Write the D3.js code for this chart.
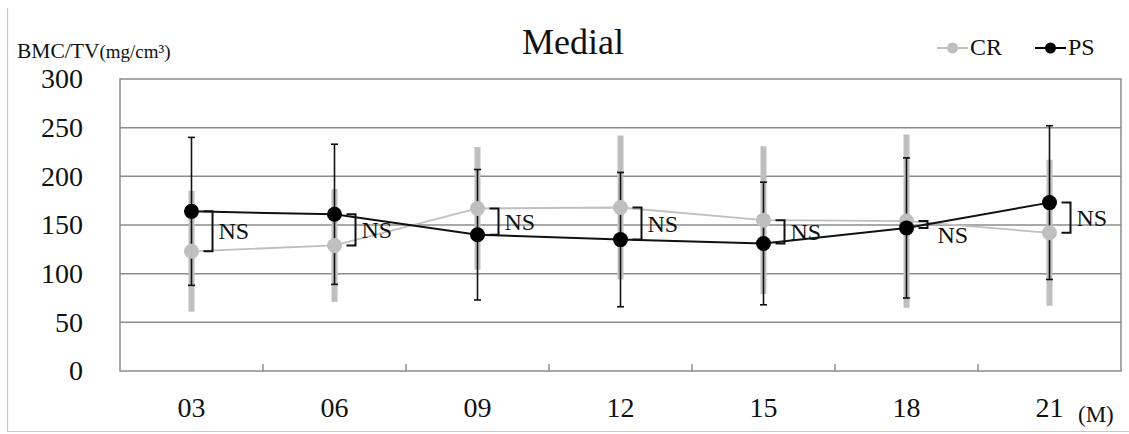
<!DOCTYPE html>
<html>
<head>
<meta charset="utf-8">
<script src="https://cdn.jsdelivr.net/npm/d3@7/dist/d3.min.js"></script>
<style>
  body { margin: 0; background: #fff; }
  svg { display: block; font-family: "Liberation Serif", "Times New Roman", Times, serif; }
</style>
</head>
<body>
<svg width="1129" height="434"></svg>
<script>
const months = ["03", "06", "09", "12", "15", "18", "21"];
const crMean = [123, 129, 167, 168, 155, 154, 142];
const crSD = [62, 58, 63, 74, 76, 89, 75];
const psMean = [164, 161, 140, 135, 131, 147, 173];
const psSD = [76, 72, 67, 69, 63, 72, 79];
const yTicks = [0, 50, 100, 150, 200, 250, 300];
const seriesNames = ["CR", "PS"];

const GREY = "#bfbfbf";
const FONT = "Liberation Serif, Times New Roman, serif";
const svg = d3.select("svg");

const margin = {top: 79, right: 8, bottom: 63, left: 120},
  width = 1129 - margin.left - margin.right,
  height = 434 - margin.top - margin.bottom;

const x = d3.scaleBand().domain(months).range([margin.left, margin.left + width]);
const y = d3.scaleLinear().domain([0, 300]).range([margin.top + height, margin.top]);
const cx = d => x(d) + x.bandwidth() / 2;

const data = months.map((m, i) => ({m, cr: crMean[i], crSD: crSD[i], ps: psMean[i], psSD: psSD[i]}));

// outer frame (left and bottom edges visible)
svg.append("path")
  .attr("d", "M7.5,8 V431.5 H1129")
  .attr("fill", "none").attr("stroke", "#c8c8c8").attr("stroke-width", 1.2);

// gridlines
svg.append("g")
  .selectAll("line")
  .data(yTicks.filter(t => t > 0 && t < 300))
  .join("line")
    .attr("x1", margin.left).attr("x2", margin.left + width)
    .attr("y1", d => y(d)).attr("y2", d => y(d))
    .attr("stroke", "#8c8c8c").attr("stroke-width", 1.5);

// plot border
svg.append("rect")
  .attr("x", margin.left).attr("y", margin.top)
  .attr("width", width).attr("height", height)
  .attr("fill", "none").attr("stroke", "#8c8c8c").attr("stroke-width", 1.5);

// y axis labels
const yAxis = svg.append("g")
  .attr("transform", "translate(" + margin.left + ",0)")
  .call(d3.axisLeft(y).tickValues(yTicks).tickSize(0).tickPadding(37))
  .attr("font-family", FONT);
yAxis.select(".domain").remove();
yAxis.selectAll("text")
  .attr("font-size", 28).attr("fill", "#111");

// x axis
const xAxis = svg.append("g")
  .attr("transform", "translate(0," + (margin.top + height) + ")")
  .call(d3.axisBottom(x).tickSize(0).tickPadding(26))
  .attr("font-family", FONT);
xAxis.select(".domain").remove();
xAxis.selectAll("text")
  .attr("font-size", 28).attr("fill", "#111");

// small inward ticks between categories
svg.append("g")
  .selectAll("line")
  .data(months.slice(1))
  .join("line")
    .attr("x1", d => x(d)).attr("x2", d => x(d))
    .attr("y1", margin.top + height).attr("y2", margin.top + height - 7)
    .attr("stroke", "#777").attr("stroke-width", 1.2);

svg.append("text")
  .attr("x", 1078).attr("y", 422)
  .attr("font-size", 23).attr("fill", "#111")
  .text("(M)");

// title and y label
svg.append("text")
  .attr("x", 573).attr("y", 54)
  .attr("text-anchor", "middle")
  .attr("font-size", 36).attr("fill", "#111")
  .text("Medial");

const yLab = svg.append("text")
  .attr("x", 17).attr("y", 58)
  .attr("fill", "#111");
yLab.append("tspan").attr("font-size", 21.5).text("BMC/TV");
yLab.append("tspan").attr("font-size", 19).text("(mg/cm³)");

// CR error bars (thick grey, behind)
svg.append("g")
  .selectAll("line")
  .data(data)
  .join("line")
    .attr("x1", d => cx(d.m)).attr("x2", d => cx(d.m))
    .attr("y1", d => y(d.cr + d.crSD)).attr("y2", d => y(d.cr - d.crSD))
    .attr("stroke", GREY).attr("stroke-width", 6);

// PS error bars
const psErr = svg.append("g").attr("stroke", "#111").attr("stroke-width", 1.6);
psErr.selectAll(".v")
  .data(data)
  .join("line")
    .attr("x1", d => cx(d.m)).attr("x2", d => cx(d.m))
    .attr("y1", d => y(d.ps + d.psSD)).attr("y2", d => y(d.ps - d.psSD));
psErr.selectAll(".capT")
  .data(data)
  .join("line")
    .attr("x1", d => cx(d.m) - 3.5).attr("x2", d => cx(d.m) + 3.5)
    .attr("y1", d => y(d.ps + d.psSD)).attr("y2", d => y(d.ps + d.psSD));
psErr.selectAll(".capB")
  .data(data)
  .join("line")
    .attr("x1", d => cx(d.m) - 3.5).attr("x2", d => cx(d.m) + 3.5)
    .attr("y1", d => y(d.ps - d.psSD)).attr("y2", d => y(d.ps - d.psSD));

// CR line + markers
svg.append("path")
  .datum(data)
  .attr("fill", "none").attr("stroke", GREY).attr("stroke-width", 1.8)
  .attr("d", d3.line().x(d => cx(d.m)).y(d => y(d.cr)));
svg.append("g")
  .selectAll("circle")
  .data(data)
  .join("circle")
    .attr("cx", d => cx(d.m)).attr("cy", d => y(d.cr)).attr("r", 7.5)
    .attr("fill", GREY);

// PS line + markers
svg.append("path")
  .datum(data)
  .attr("fill", "none").attr("stroke", "#111").attr("stroke-width", 2)
  .attr("d", d3.line().x(d => cx(d.m)).y(d => y(d.ps)));
svg.append("g")
  .selectAll("circle")
  .data(data)
  .join("circle")
    .attr("cx", d => cx(d.m)).attr("cy", d => y(d.ps)).attr("r", 7.5)
    .attr("fill", "#000");

// NS brackets
const ns = svg.append("g");
ns.selectAll("path")
  .data(data)
  .join("path")
    .attr("fill", "none").attr("stroke", "#111").attr("stroke-width", 2)
    .attr("d", d => {
      const x0 = cx(d.m) + 12, x1 = cx(d.m) + 21;
      return "M" + x0 + "," + y(d.ps) + "H" + x1 + "V" + y(d.cr) + "H" + x0;
    });
ns.selectAll("text")
  .data(data)
  .join("text")
    .attr("x", d => cx(d.m) + (d.m === "18" ? 31 : 27))
    .attr("y", d => (y(d.ps) + y(d.cr)) / 2 + (d.m === "18" ? 18 : 8))
    .attr("font-size", 24).attr("fill", "#111")
    .text("NS");

// legend
const legend = svg.append("g");
const legX = [937, 1035];
seriesNames.forEach((name, i) => {
  const col = i === 0 ? GREY : "#000";
  const g = legend.append("g").attr("transform", "translate(" + legX[i] + ",48)");
  g.append("line").attr("x1", 0).attr("x2", 31).attr("stroke", col).attr("stroke-width", 2);
  g.append("circle").attr("cx", 15.5).attr("r", 5.5).attr("fill", col);
  g.append("text").attr("x", 33).attr("y", 7).attr("font-size", 24).attr("fill", "#111").text(name);
});
</script>
</body>
</html>
